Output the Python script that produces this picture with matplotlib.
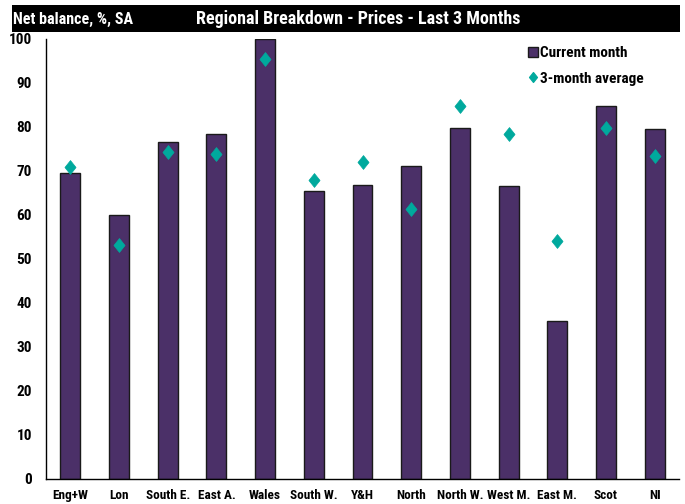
import matplotlib
matplotlib.use("Agg")
import matplotlib.pyplot as plt
from matplotlib.patches import Rectangle
from matplotlib.lines import Line2D
from matplotlib.path import Path
from matplotlib import font_manager
import numpy as np

categories = ["Eng+W", "Lon", "South E.", "East A.", "Wales", "South W.", "Y&H",
              "North", "North W.", "West M.", "East M.", "Scot", "NI"]
current_month = [69.5, 60, 76.6, 78.5, 100, 65.5, 66.8, 71.1, 79.8, 66.7, 35.9, 84.8, 79.6]
three_month_avg = [70.8, 53.2, 74.3, 73.8, 95.5, 68, 72, 61.3, 84.7, 78.3, 54.2, 79.8, 73.5]
yticks = list(range(0, 101, 10))

names = {f.name for f in font_manager.fontManager.ttflist}
narrow = [n for n in ["Liberation Sans Narrow", "Arial Narrow", "DejaVu Sans Condensed",
                      "Roboto Condensed", "Open Sans Condensed"] if n in names]
FONT = narrow + ["Liberation Sans", "DejaVu Sans"]
NARROW = bool(narrow)
plt.rcParams["font.family"] = FONT
plt.rcParams["font.weight"] = "bold"

BAR = "#4B3068"
TEAL = "#00A99D"
DIAMOND = Path([(0, 1), (0.8, 0), (0, -1), (-0.8, 0), (0, 1)],
               [Path.MOVETO, Path.LINETO, Path.LINETO, Path.LINETO, Path.CLOSEPOLY])

fig = plt.figure(figsize=(6.85, 5.04), dpi=100)
ax = fig.add_axes([46/685, 1-479/504, (679-46)/685, (479-39)/504])

x = np.arange(len(categories))
ax.bar(x, current_month, width=0.41, color=BAR, edgecolor="#1a1a1a", linewidth=1.0, zorder=2,
       label="Current month")
ax.plot(x, three_month_avg, linestyle="none", marker=DIAMOND, markersize=10, color=TEAL,
        markeredgecolor=TEAL, markeredgewidth=0.5, zorder=3, label="3-month average")

k = 1.0 if NARROW else 0.88
ax.set_xlim(-0.5, len(categories) - 0.5)
ax.set_ylim(0, 100)
ax.set_yticks(yticks)
ax.set_yticklabels([str(v) for v in yticks], fontsize=11*k, fontweight="bold")
ax.set_xticks(x)
ax.set_xticklabels(categories, fontsize=9.5*k, fontweight="bold")
ax.tick_params(axis="both", length=0)
ax.tick_params(axis="y", pad=10)
ax.tick_params(axis="x", pad=7.5)
for s in ["top", "right"]:
    ax.spines[s].set_visible(False)
ax.spines["left"].set_linewidth(1.0)
ax.spines["bottom"].set_linewidth(1.0)

handles = [Line2D([], [], linestyle="none", marker="s", markersize=7, markerfacecolor=BAR,
                  markeredgecolor="#1a1a1a"),
           Line2D([], [], linestyle="none", marker=DIAMOND, markersize=7, color=TEAL)]
leg = ax.legend(handles, ["Current month", "3-month average"], loc="upper left",
                bbox_to_anchor=(519/685, 1-40/504), bbox_transform=fig.transFigure,
                frameon=False, prop={"size": 11*k, "weight": "bold", "family": FONT},
                handletextpad=0.0, handlelength=1.0, labelspacing=0.75, borderaxespad=0)

# Title bar
fig.patches.append(Rectangle((12/685, 1-32/504), (680-12)/685, 27/504, transform=fig.transFigure,
                             facecolor="black", edgecolor="none", zorder=0))
fig.text(13/685, 1-19/504, "Net balance, %, SA", color="white", fontsize=11.5*k, fontweight="bold",
         va="center", ha="left")
fig.text(358/685, 1-19/504, "Regional Breakdown - Prices - Last 3 Months", color="white",
         fontsize=13*k, fontweight="bold", va="center", ha="center")

fig.savefig("out.png", dpi=100)
